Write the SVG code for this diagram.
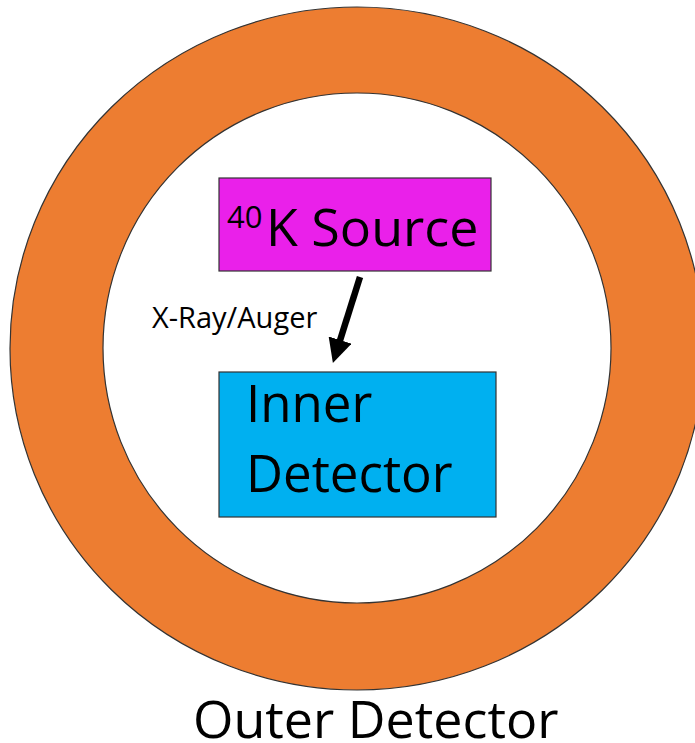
<svg xmlns="http://www.w3.org/2000/svg" width="695" height="743" viewBox="0 0 695 743">
  <style>
    .lbl { font-family: "Open Sans", "Liberation Sans", sans-serif; fill: #000; }
    .box { stroke: #333; stroke-width: 1.2; }
  </style>
  <defs>
    <marker id="arrowhead" markerUnits="userSpaceOnUse" markerWidth="24" markerHeight="24" refX="2" refY="12" orient="auto">
      <path d="M0,0 L24,12 L0,24 z" fill="#000"/>
    </marker>
  </defs>
  <rect width="695" height="743" fill="#fff"/>
  <g id="outer-detector">
    <ellipse cx="357" cy="348.5" rx="347" ry="341.5" fill="#ED7D31" stroke="#333" stroke-width="1.2"/>
    <ellipse cx="357" cy="348" rx="254" ry="255" fill="#fff" stroke="#333" stroke-width="1.2"/>
    <text class="lbl" x="193" y="738" font-size="52">Outer Detector</text>
  </g>
  <g id="k40-source">
    <rect class="box" x="219" y="178" width="272" height="93" fill="#EA20EA"/>
    <text class="lbl" x="227" y="228" font-size="31">40</text>
    <text class="lbl" x="266" y="246" font-size="52">K Source</text>
  </g>
  <g id="inner-detector">
    <rect class="box" x="219" y="372" width="277" height="145" fill="#00B0F0"/>
    <text class="lbl" x="246" y="422" font-size="51">Inner</text>
    <text class="lbl" x="246" y="492" font-size="51">Detector</text>
  </g>
  <g id="connectors">
    <line x1="360" y1="277" x2="339.5" y2="342" stroke="#000" stroke-width="6.5" marker-end="url(#arrowhead)"/>
    <text class="lbl" x="152" y="328" font-size="29">X-Ray/Auger</text>
  </g>
</svg>
